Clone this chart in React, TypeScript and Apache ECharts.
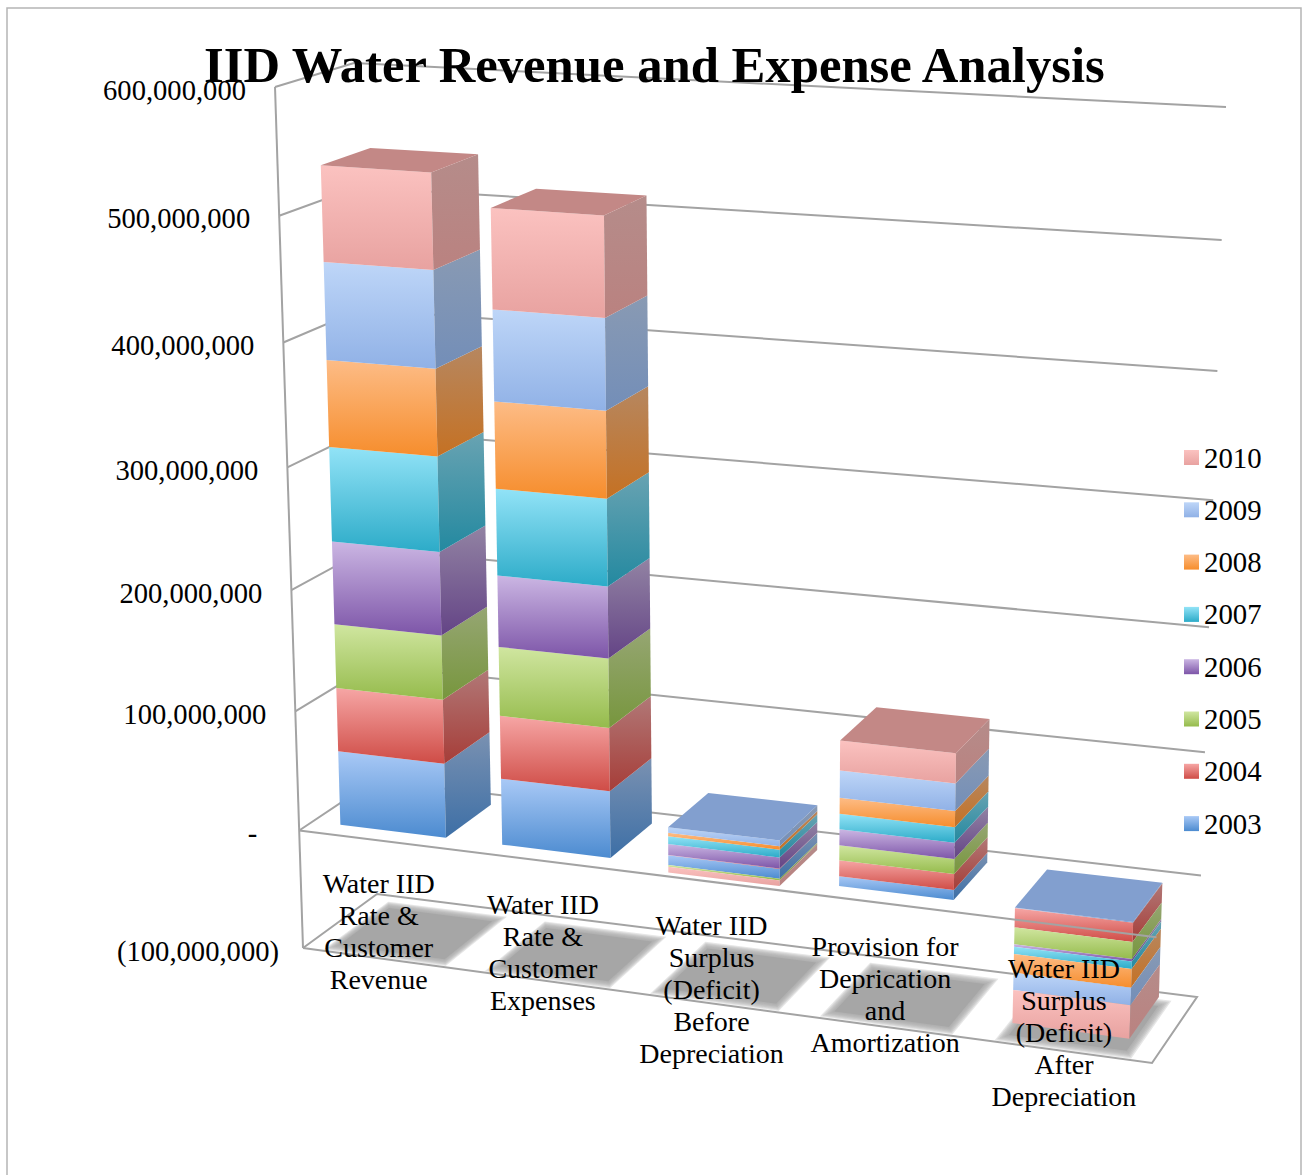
import React, { useEffect, useRef } from "react";
import * as echarts from "echarts";

const titleText = "IID Water Revenue and Expense Analysis";
const categories = [
  "Water IID\nRate &\nCustomer\nRevenue",
  "Water IID\nRate &\nCustomer\nExpenses",
  "Water IID\nSurplus\n(Deficit)\nBefore\nDepreciation",
  "Provision for\nDeprication\nand\nAmortization",
  "Water IID\nSurplus\n(Deficit)\nAfter\nDepreciation",
];
const years = ["2003", "2004", "2005", "2006", "2007", "2008", "2009", "2010"];
const v2003 = [62000000, 55000000, 8000000, 8000000, -500000];
const v2004 = [53000000, 52000000, 300000, 13000000, -15500000];
const v2005 = [53000000, 56500000, -1400000, 12000000, -13500000];
const v2006 = [68000000, 58000000, 9000000, 13000000, -2000000];
const v2007 = [77000000, 70000000, 6400000, 12500000, -6000000];
const v2008 = [70000000, 69500000, 2800000, 13000000, -15000000];
const v2009 = [78000000, 72500000, 4700000, 22000000, -14000000];
const v2010 = [76000000, 79000000, -4700000, 24000000, -27000000];
const yearValues = [v2003, v2004, v2005, v2006, v2007, v2008, v2009, v2010];
const tickValues = [600000000, 500000000, 400000000, 300000000, 200000000, 100000000, 0, -100000000];
const tickLabels = ["600,000,000", "500,000,000", "400,000,000", "300,000,000", "200,000,000", "100,000,000", "-", "(100,000,000)"];

const topColors = ["#a9c9f6", "#f6a6a5", "#d0e6a0", "#cbb6e3", "#92e3f7", "#fdbc86", "#bed6f8", "#fbc2c0"];
const bottomColors = ["#4c8bd0", "#cf4c46", "#95bb4c", "#7d55a8", "#2cabc8", "#f68d2c", "#90b1e6", "#e8a2a0"];

const FONT = '"Liberation Serif", serif';
const GRID = { left: 100, top: 100, width: 1000, height: 900 };

type P = [number, number];
function squareToQuad(q: P[], perspective: number) {
  const [[x0, y0], [x1, y1], [x2, y2], [x3, y3]] = q;
  const dx1 = x1 - x2, dx2 = x3 - x2, dx3 = x0 - x1 + x2 - x3;
  const dy1 = y1 - y2, dy2 = y3 - y2, dy3 = y0 - y1 + y2 - y3;
  const den = dx1 * dy2 - dx2 * dy1;
  const g = (dx3 * dy2 - dx2 * dy3) / den;
  const h = (dx1 * dy3 - dx3 * dy1) / den;
  const a = x1 - x0 + g * x1, b = x3 - x0 + h * x3;
  const d = y1 - y0 + g * y1, e = y3 - y0 + h * y3;
  return (u: number, v: number): P => {
    const w = g * u + h * v + 1;
    const hx = (a * u + b * v + x0) / w, hy = (d * u + e * v + y0) / w;
    // bilinear position, blended with the true homography
    const lx = (1 - v) * ((1 - u) * x0 + u * x1) + v * ((1 - u) * x3 + u * x2);
    const ly = (1 - v) * ((1 - u) * y0 + u * y1) + v * ((1 - u) * y3 + u * y2);
    return [hx * perspective + lx * (1 - perspective), hy * perspective + ly * (1 - perspective)];
  };
}
// floor plane and top plane of the chart box: front-left, front-right, back-right, back-left
const floorMap = squareToQuad([[303, 948], [1152, 1063], [1197, 997], [377, 894]], 0.56);
const roofMap = squareToQuad([[275, 87], [1185, 141], [1226, 107], [354, 63]], 0.33);
const K = 1.055;
// s: 0 at the floor, 1 at the top; u along categories, d: 0 front, 1 back
function project(u: number, d: number, s: number): P {
  const a = floorMap(u, d), b = roofMap(u, d);
  const f = s / (s + K * (1 - s));
  return [a[0] + (b[0] - a[0]) * f, a[1] + (b[1] - a[1]) * f];
}
const uOf = (px: number) => (px - GRID.left) / GRID.width;
const sOf = (py: number) => (GRID.top + GRID.height - py) / GRID.height;
const BAR_FRAC = 0.655, D0 = 0.18, D1 = 0.82;
// soft shadow: nested translucent footprints from the outer to the inner rim
const SHADOW_LAYERS = 7;
const SHADOW_OUTER = { d0: 0.02, d1: 0.9, frac: 0.76 };
const SHADOW_INNER = { d0: 0.12, d1: 0.8, frac: 0.66 };

function shade(hex: string, k: number) {
  const n = parseInt(hex.slice(1), 16);
  const c = [n >> 16, (n >> 8) & 255, n & 255].map((x) => Math.round(x * k));
  return `rgb(${c[0]},${c[1]},${c[2]})`;
}
const grad = (a: string, b: string) =>
  new echarts.graphic.LinearGradient(0, 0, 0, 1, [
    { offset: 0, color: a },
    { offset: 1, color: b },
  ]);

// stacks: positive values upward from zero, negative ones downward
function buildStacks() {
  const rows: number[][][] = years.map(() => []);
  categories.forEach((_, c) => {
    let pos = 0, neg = 0, topIdx = -1;
    yearValues.forEach((vals, y) => {
      const v = vals[c];
      if (v >= 0) {
        rows[y].push([c, pos, pos + v, 0]);
        pos += v;
        topIdx = y;
      } else {
        rows[y].push([c, neg, neg + v, 0]);
        neg += v;
      }
    });
    if (topIdx < 0) topIdx = 0;
    rows[topIdx][c][3] = 1;
  });
  return rows;
}

export default function App() {
  const ref = useRef<HTMLDivElement>(null);
  useEffect(() => {
    const chart = echarts.init(ref.current!, undefined, { renderer: "svg" });
    const rows = buildStacks();

    const yearSeries = years.map((name, y) => ({
      name,
      type: "custom",
      z: 3,
      silent: true,
      itemStyle: { color: grad(topColors[y], bottomColors[y]) },
      data: rows[y],
      renderItem: (_p: any, api: any) => {
        const c = api.value(0), y0 = api.value(1), y1 = api.value(2), isTop = api.value(3);
        const hi = Math.max(y0, y1), lo = Math.min(y0, y1);
        const a = api.coord([c, hi]), b = api.coord([c, lo]);
        const band = api.size([1, 0])[0];
        const u0 = uOf(a[0] - (band * BAR_FRAC) / 2), u1 = uOf(a[0] + (band * BAR_FRAC) / 2);
        const sa = sOf(a[1]), sb = sOf(b[1]);
        const children: any[] = [];
        if (hi > lo) {
          children.push({
            type: "polygon",
            shape: { points: [project(u0, D0, sa), project(u1, D0, sa), project(u1, D0, sb), project(u0, D0, sb)] },
            style: { fill: grad(topColors[y], bottomColors[y]) },
          });
          children.push({
            type: "polygon",
            shape: { points: [project(u1, D0, sa), project(u1, D1, sa), project(u1, D1, sb), project(u1, D0, sb)] },
            style: { fill: grad(shade(topColors[y], 0.72), shade(bottomColors[y], 0.8)) },
          });
        }
        if (isTop) {
          const cool = y === 0 || y === 6;
          children.push({
            type: "polygon",
            shape: { points: [project(u0, D0, sa), project(u1, D0, sa), project(u1, D1, sa), project(u0, D1, sa)] },
            style: { fill: shade(bottomColors[cool ? 6 : y], cool ? 0.9 : 0.84) },
          });
        }
        return { type: "group", children };
      },
    }));

    const wallSeries = {
      name: "walls",
      type: "custom",
      z: 1,
      silent: true,
      data: tickValues.map((v) => [0, v]),
      renderItem: (_p: any, api: any) => {
        const v = api.value(1);
        const s = sOf(api.coord([0, v])[1]);
        const stroke = { stroke: "#a3a3a3", lineWidth: 2, fill: "none" };
        const pts = v === -100000000
          ? [project(0, 0, s), project(0, 1, s), project(1, 1, s), project(1, 0, s), project(0, 0, s)]
          : [project(0, 0, s), project(0, 1, s), project(1, 1, s)];
        const children: any[] = [{ type: "polyline", shape: { points: pts }, style: stroke }];
        if (v === 600000000) {
          const sBottom = sOf(api.coord([0, -100000000])[1]);
          children.push({ type: "polyline", shape: { points: [project(0, 0, s), project(0, 0, sBottom)] }, style: stroke });
        }
        return { type: "group", children };
      },
    };

    const shadowSeries = {
      name: "shadows",
      type: "custom",
      z: 2,
      silent: true,
      data: categories.map((_, i) => [i, -100000000]),
      renderItem: (_p: any, api: any) => {
        const pt = api.coord([api.value(0), api.value(1)]);
        const band = api.size([1, 0])[0];
        const s = sOf(pt[1]);
        const children: any[] = [];
        for (let k = 0; k < SHADOW_LAYERS; k++) {
          const t = k / (SHADOW_LAYERS - 1);
          const mix = (a: number, b: number) => a + (b - a) * t;
          const frac = mix(SHADOW_OUTER.frac, SHADOW_INNER.frac);
          const d0 = mix(SHADOW_OUTER.d0, SHADOW_INNER.d0), d1 = mix(SHADOW_OUTER.d1, SHADOW_INNER.d1);
          const u0 = uOf(pt[0] - (band * frac) / 2), u1 = uOf(pt[0] + (band * frac) / 2);
          children.push({
            type: "polygon",
            shape: { points: [project(u0, d0, s), project(u1, d0, s), project(u1, d1, s), project(u0, d1, s)] },
            style: { fill: "#a6a6a6", opacity: k === SHADOW_LAYERS - 1 ? 1 : 0.28 },
          });
        }
        return { type: "group", children };
      },
    };

    const zeroLineSeries = {
      name: "zero line",
      type: "custom",
      z: 4,
      silent: true,
      data: [[0, 0]],
      renderItem: (_p: any, api: any) => {
        const s = sOf(api.coord([0, 0])[1]);
        return {
          type: "polyline",
          shape: { points: [project(0, 0, s), project(1, 0, s)] },
          style: { stroke: "#a3a3a3", lineWidth: 2, fill: "none" },
        };
      },
    };

    const tickSeries = {
      name: "value labels",
      type: "custom",
      z: 5,
      silent: true,
      data: tickValues.map((v) => [0, v]),
      renderItem: (p: any, api: any) => {
        const v = api.value(1);
        const s = sOf(api.coord([0, v])[1]);
        const q = project(0, 0, s);
        const dx = v === 0 ? -42 : v < 0 ? -24 : -29;
        return {
          type: "text",
          style: { text: tickLabels[p.dataIndex], x: q[0] + dx, y: q[1] + 3, align: "right", verticalAlign: "middle", fill: "#000", font: `28.6px ${FONT}` },
        };
      },
    };

    const catLabelSeries = {
      name: "category labels",
      type: "custom",
      z: 6,
      silent: true,
      data: categories.map((_, i) => [i, 0]),
      renderItem: (p: any, api: any) => {
        const pt = api.coord([api.value(0), api.value(1)]);
        const q = project(uOf(pt[0]), 0, sOf(pt[1]));
        return {
          type: "text",
          style: { text: categories[p.dataIndex], x: q[0] - 1, y: q[1] + 27, align: "center", verticalAlign: "top", lineHeight: 32, fill: "#000", font: `28px ${FONT}` },
        };
      },
    };

    chart.setOption({
      animation: false,
      backgroundColor: "#fff",
      title: { text: titleText, left: 204, top: 39, padding: 0, z: 10, textStyle: { fontFamily: FONT, fontSize: 50.7, fontWeight: "bold", color: "#000" } },
      grid: GRID,
      xAxis: { type: "category", data: categories, show: false },
      yAxis: { type: "value", min: -100000000, max: 600000000, interval: 100000000, show: false },
      legend: {
        orient: "vertical",
        left: 1184,
        top: 443,
        padding: 0,
        itemWidth: 15,
        itemHeight: 15,
        itemGap: 23.3,
        icon: "rect",
        data: [...years].reverse(),
        textStyle: { fontFamily: FONT, fontSize: 28.8, color: "#000" },
        selectedMode: false,
      },
      graphic: [{ type: "rect", shape: { x: 7, y: 8, width: 1294, height: 1300 }, style: { fill: "none", stroke: "#b5b5b5", lineWidth: 1.5 }, silent: true, z: 0 }],
      series: [wallSeries, shadowSeries, ...yearSeries, zeroLineSeries, tickSeries, catLabelSeries],
    });
    return () => chart.dispose();
  }, []);
  return <div ref={ref} style={{ position: "absolute", left: 0, top: 0, width: 1306, height: 1175 }} />;
}
